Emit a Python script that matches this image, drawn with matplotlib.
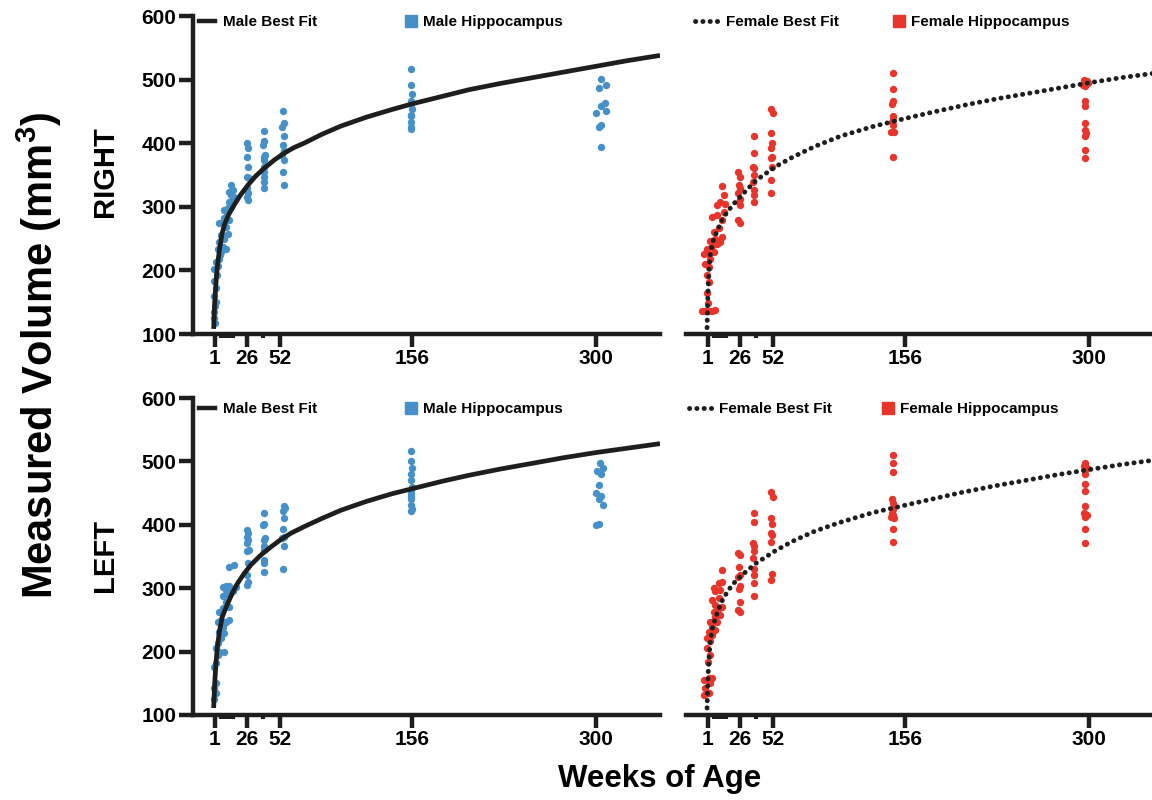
import matplotlib.pyplot as plt
from matplotlib.lines import Line2D

plt.rcParams['font.family'] = ['Liberation Sans', 'DejaVu Sans']
plt.rcParams['font.weight'] = 'bold'
plt.rcParams['mathtext.fontset'] = 'custom'
plt.rcParams['mathtext.bf'] = 'Liberation Sans:bold'
plt.rcParams['mathtext.rm'] = 'Liberation Sans:bold'

BLUE = '#4590c8'
RED = '#e8352b'
INK = '#1e1e1e'

major_weeks = [1, 26, 52, 156, 300]
minor_weeks = [6, 9, 12, 15, 39]

# ---- RIGHT hippocampus, male ----
male_right_wk = [1.0, 0.8, 1.6, 0.3, 2.1, 0.8, 2.9, 0.8, 3.4, 2.1, 4.7, 6.0, 3.4, 7.3, 9.9,
                 4.7, 8.6, 6.0, 11.2, 9.9, 4.7, 7.3, 8.6, 12.5, 8.6, 11.2, 13.8, 12.5, 15.1,
                 13.8, 16.4, 12.5, 15.1, 13.8, 2.0, 5.5, 10.5, 14.5, 0.5,
                 26, 27, 26.5, 27, 26, 27.5, 26.5, 27, 26, 27,
                 39.5, 40, 39, 40.5, 39.5, 40, 39.5, 40, 39.5, 40, 39.5,
                 54.5, 55, 54, 55, 54.5, 55, 54, 55, 54.5, 55,
                 155, 155, 155.5, 154.5, 155, 155.5, 154.5, 155, 155, 154.5, 155,
                 304, 308, 302, 307, 304, 300, 308, 304, 302, 304]
male_right_vol = [118, 134, 144, 160, 173, 184, 192, 202, 207, 213, 218, 229, 234, 237, 234,
                  244, 250, 255, 258, 268, 274, 276, 282, 279, 295, 298, 300, 308, 311,
                  319, 316, 324, 327, 334, 150, 225, 290, 305, 125,
                  400, 392, 379, 363, 347, 345, 329, 321, 316, 310,
                  419, 403, 397, 382, 379, 374, 363, 355, 347, 339, 329,
                  450, 432, 426, 411, 397, 387, 382, 374, 355, 334,
                  516, 492, 477, 466, 461, 453, 445, 442, 434, 426, 423,
                  501, 492, 487, 463, 458, 448, 451, 429, 426, 394]
male_right_fit_wk = [0.2, 1, 2, 3, 4.7, 6.5, 8.6, 12, 16, 21, 27, 33, 40, 48, 56, 63, 71, 85,
                     100, 120, 140, 156, 180, 200, 225, 250, 275, 300, 325, 350]
male_right_fit_vol = [108, 150, 180, 205, 232, 255, 272, 288, 302, 318, 334, 348, 361, 374,
                      385, 393, 400, 414, 427, 441, 453, 462, 474, 484, 494, 503, 512, 521,
                      530, 538]

# ---- RIGHT hippocampus, female ----
female_right_wk = [-3.4, -0.8, 1.8, 4.5, 7.1, 1.3, 0.5, 1.8, 0.5, 1.8, -0.8, 3.1, -2.1, 1.8,
                   5.8, 0.5, 4.5, 8.4, 3.1, 7.1, 11.0, 12.3, 5.8, 9.7, 4.5, 8.4, 12.3, 13.6,
                   8.4, 11.0, 14.9, 13.6, 12.3,
                   25, 26, 25.5, 26.5, 25, 26, 25.5, 26.5, 25, 26,
                   37, 37.5, 36.5, 37, 37.5, 36.5, 37, 37.5, 37,
                   51, 52, 51, 51.5, 51, 51.5, 51, 51.5, 51, 51,
                   146, 146, 146.5, 145.5, 146, 146.5, 145.5, 146, 145, 147, 146,
                   296, 298, 299, 295, 297, 297, 297, 297, 297, 297.5, 296.5, 297, 297]
female_right_vol = [136, 136, 136, 136, 137, 149, 165, 181, 192, 205, 210, 218, 226, 226,
                    229, 234, 239, 242, 247, 250, 245, 252, 260, 266, 284, 287, 279, 292,
                    303, 308, 305, 319, 332,
                    355, 347, 334, 329, 321, 313, 308, 303, 279, 274,
                    411, 384, 363, 361, 350, 339, 326, 319, 308,
                    453, 448, 416, 400, 392, 379, 376, 363, 342, 321,
                    511, 485, 466, 461, 442, 437, 434, 429, 418, 417, 379,
                    500, 498, 495, 492, 490, 466, 458, 432, 421, 416, 412, 390, 377]
female_right_fit_wk = [0.5, 1, 1.5, 2.2, 3.1, 5, 8.4, 12, 16.3, 22, 28, 38.6, 54, 67.5, 85,
                       105, 130, 156, 180, 205, 231, 263, 300, 325, 351]
female_right_fit_vol = [110, 150, 180, 205, 226, 245, 262, 278, 292, 306, 319, 341, 363, 378,
                        395, 411, 426, 439, 450, 461, 471, 482, 495, 503, 510]

# ---- LEFT hippocampus, male ----
male_left_wk = [0.8, 2.1, 0.3, 2.1, 0.8, 2.1, 3.4, 4.7, 2.1, 8.6, 3.4, 6.0, 4.7, 8.6, 7.3,
                3.4, 6.0, 9.9, 12.5, 4.7, 7.3, 12.5, 9.9, 7.3, 12.5, 9.9, 15.1, 7.3, 12.5,
                17.7, 9.9, 12.5, 16.4,
                26, 27, 26.5, 27, 26, 27.5, 26.5, 27, 26, 27, 26.5,
                39.5, 40, 39, 40.5, 39.5, 40, 39.5, 40, 39.5, 40,
                55, 56, 54.5, 55, 54.5, 55, 54, 55, 54.5,
                155, 155, 155.5, 154.5, 155, 155.5, 154.5, 155, 155, 154.5, 155, 155.5, 155,
                303, 305, 301, 304, 302, 300, 304, 302, 305, 302, 300]
male_left_vol = [126, 134, 142, 150, 176, 182, 195, 200, 205, 200, 213, 221, 231, 229, 239,
                 247, 250, 247, 250, 263, 268, 270, 279, 287, 290, 297, 295, 302, 304,
                 302, 304, 334, 337,
                 392, 387, 381, 376, 371, 360, 358, 339, 321, 310, 305,
                 418, 402, 400, 379, 376, 366, 360, 344, 339, 326,
                 429, 426, 421, 410, 394, 381, 379, 366, 331,
                 517, 500, 490, 480, 470, 460, 455, 450, 445, 440, 432, 425, 422,
                 498, 490, 485, 480, 462, 450, 445, 440, 432, 402, 400]
male_left_fit_wk = [0.2, 1, 2, 3, 4.7, 7, 11, 15, 19, 24, 29.5, 37, 45, 53, 61, 71, 85, 100,
                    120, 140, 156, 180, 200, 225, 250, 275, 300, 325, 350]
male_left_fit_vol = [111, 150, 182, 205, 232, 255, 275, 293, 308, 323, 337, 352, 365, 377,
                     387, 397, 410, 423, 437, 449, 457, 469, 478, 488, 497, 506, 514, 521, 528]

# ---- LEFT hippocampus, female ----
female_left_wk = [-2.1, 1.8, -0.8, 3.1, -2.1, 1.8, 4.5, 1.3, 3.1, 0.5, 3.1, 0.5, 4.5, 1.8,
                  7.1, 4.5, 3.1, 8.4, 7.1, 11.0, 5.8, 9.7, 7.1, 12.3, 4.5, 9.7, 7.1, 11.0,
                  5.8, 12.3, 9.7, 12.3,
                  25, 26, 25.5, 26.5, 25, 26, 25.5, 26.5, 25, 26,
                  37, 37.5, 36.5, 37, 37.5, 36.5, 37, 37.5, 37, 37,
                  51, 52, 51, 51.5, 51, 51.5, 51, 51.5, 51,
                  146, 146, 146.5, 145.5, 146, 146.5, 145.5, 146, 145, 147, 146, 146,
                  297, 296, 298, 297, 297, 297, 297, 296, 298, 297, 297, 297]
female_left_vol = [132, 134, 142, 150, 155, 158, 158, 184, 195, 205, 216, 221, 226, 231,
                   234, 239, 247, 247, 255, 258, 263, 268, 273, 271, 281, 284, 295, 297,
                   300, 310, 308, 329,
                   355, 352, 334, 321, 317, 304, 299, 279, 266, 263,
                   418, 405, 371, 366, 358, 347, 331, 321, 308, 287,
                   452, 444, 410, 402, 387, 384, 373, 323, 313,
                   510, 498, 483, 440, 435, 425, 418, 415, 413, 410, 393, 373,
                   497, 493, 490, 480, 465, 453, 430, 418, 415, 412, 393, 372]
female_left_fit_wk = [0.5, 1, 1.5, 2.2, 3.1, 5, 9.7, 13, 17.6, 22, 28, 38.6, 54, 67.5, 85,
                      105, 130, 156, 180, 200, 225, 250, 275, 300, 325, 351]
female_left_fit_vol = [111, 145, 170, 195, 218, 240, 268, 283, 298, 309, 321, 339, 359, 374,
                       390, 404, 419, 431, 442, 451, 461, 470, 479, 487, 495, 502]


def style_axes(ax, show_y):
    ax.set_xlim(-16, 350)
    ax.set_ylim(100, 600)
    ax.spines['top'].set_visible(False)
    ax.spines['right'].set_visible(False)
    ax.spines['bottom'].set_linewidth(3.2)
    ax.spines['bottom'].set_color(INK)
    ax.set_xticks(major_weeks)
    ax.set_xticks(minor_weeks, minor=True)
    ax.tick_params(axis='x', which='major', length=9, width=3.2, color=INK,
                   labelsize=15, pad=2)
    ax.tick_params(axis='x', which='minor', length=3, width=3, color=INK)
    if show_y:
        ax.spines['left'].set_linewidth(3.2)
        ax.spines['left'].set_color(INK)
        ax.set_yticks(range(100, 601, 100))
        ax.tick_params(axis='y', length=10, width=3.2, color=INK, labelsize=15, pad=2)
    else:
        ax.spines['left'].set_visible(False)
        ax.tick_params(axis='y', left=False, labelleft=False)
    ax.patch.set_visible(False)


def add_legends(ax, fit_handle, fit_label, color, dot_label, fit_x, dot_x, y, fit_len):
    leg1 = ax.legend([fit_handle], [fit_label], loc='center left', bbox_to_anchor=(fit_x, y),
                     frameon=False, handlelength=fit_len, handletextpad=0.5, borderpad=0,
                     borderaxespad=0, prop={'size': 11, 'weight': 'bold'})
    ax.add_artist(leg1)
    sq = Line2D([], [], ls='none', marker='s', markersize=8, color=color)
    ax.legend([sq], [dot_label], loc='center left', bbox_to_anchor=(dot_x, y),
              frameon=False, handlelength=0.8, handletextpad=0.4, borderpad=0,
              borderaxespad=0, prop={'size': 11, 'weight': 'bold'})


fig = plt.figure(figsize=(11.52, 8), dpi=100)
ax_tl = fig.add_axes([193 / 1152, 1 - 334 / 800, 467 / 1152, 318 / 800])
ax_tr = fig.add_axes([686 / 1152, 1 - 334 / 800, 467 / 1152, 318 / 800])
ax_bl = fig.add_axes([193 / 1152, 1 - 715 / 800, 467 / 1152, 317 / 800])
ax_br = fig.add_axes([686 / 1152, 1 - 715 / 800, 467 / 1152, 317 / 800])

dot_style = (0, (0.05, 1.45))
male_line = dict(color=INK, lw=3.4, solid_capstyle='butt', zorder=3)
female_line = dict(color=INK, lw=3.5, ls=dot_style, dash_capstyle='round', zorder=3)

ax_tl.scatter(male_right_wk, male_right_vol, s=28, color=BLUE, lw=0, zorder=2)
ax_tl.plot(male_right_fit_wk, male_right_fit_vol, **male_line)
ax_tr.scatter(female_right_wk, female_right_vol, s=28, color=RED, lw=0, zorder=2)
ax_tr.plot(female_right_fit_wk, female_right_fit_vol, **female_line)
ax_bl.scatter(male_left_wk, male_left_vol, s=28, color=BLUE, lw=0, zorder=2)
ax_bl.plot(male_left_fit_wk, male_left_fit_vol, **male_line)
ax_br.scatter(female_left_wk, female_left_vol, s=28, color=RED, lw=0, zorder=2)
ax_br.plot(female_left_fit_wk, female_left_fit_vol, **female_line)

for ax, show_y in [(ax_tl, True), (ax_tr, False), (ax_bl, True), (ax_br, False)]:
    style_axes(ax, show_y)

male_h = Line2D([], [], color=INK, lw=3.2)
female_h = Line2D([], [], color=INK, lw=3.5, ls=dot_style, dash_capstyle='round')
add_legends(ax_tl, male_h, 'Male Best Fit', BLUE, 'Male Hippocampus', 0.012, 0.453, 0.981, 1.1)
add_legends(ax_tr, female_h, 'Female Best Fit', RED, 'Female Hippocampus', 0.02, 0.443, 0.981, 1.5)
add_legends(ax_bl, male_h, 'Male Best Fit', BLUE, 'Male Hippocampus', 0.012, 0.453, 0.965, 1.1)
add_legends(ax_br, female_h, 'Female Best Fit', RED, 'Female Hippocampus', 0.006, 0.42, 0.965, 1.5)

fig.text(0.034, 0.556, r'Measured Volume (mm$^{\mathbf{3}}$)', rotation=90, ha='center',
         va='center', fontsize=30, fontweight='bold')
fig.text(0.091, 0.786, 'RIGHT', rotation=90, ha='center', va='center', fontsize=21,
         fontweight='bold')
fig.text(0.091, 0.306, 'LEFT', rotation=90, ha='center', va='center', fontsize=21,
         fontweight='bold')
fig.text(0.573, 0.026, 'Weeks of Age', ha='center', va='center', fontsize=22.5,
         fontweight='bold')

fig.savefig('out.png', dpi=100)
